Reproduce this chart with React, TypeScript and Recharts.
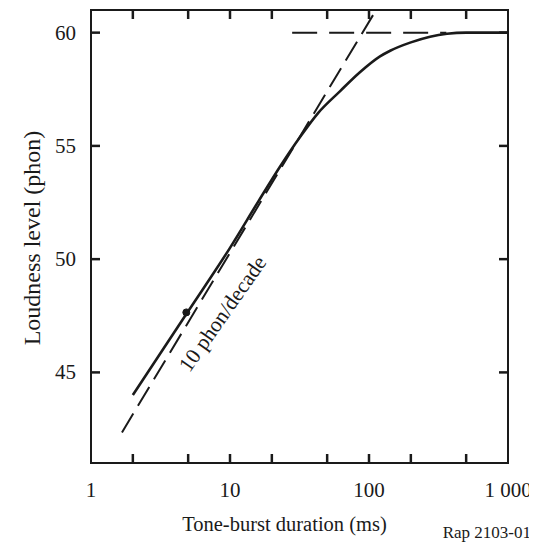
import React from 'react';
import { ComposedChart, Line, XAxis, YAxis, ReferenceDot, ReferenceLine, ReferenceArea } from 'recharts';

// tone-burst duration (ms) vs loudness level (phon)
const solidDurations = [2, 5, 10, 16, 23, 32, 43, 62, 86, 120, 142, 200, 275, 364, 500, 1000];
const solidLevels = [44.0, 47.7, 50.5, 52.55, 54.1, 55.4, 56.45, 57.42, 58.25, 58.95, 59.2, 59.57, 59.82, 59.95, 60, 60];

// 10 phon/decade asymptote
const slopeDurations = [1.67, 110];
const slopeLevels = [42.35, 60.9];

// long-duration asymptote
const plateauDurations = [28, 360];
const plateauLevels = [60, 60];

const markerDurations = [4.85];
const markerLevels = [47.65];

const xDomain = [1, 1000];
const yDomain = [41, 61];
const xTicks = [1, 2, 5, 10, 20, 50, 100, 200, 500, 1000];
const xLabelValues = [1, 10, 100, 1000];
const xLabelTexts = ['1', '10', '100', '1 000'];
const yTicks = [45, 50, 55, 60];

const solidData = solidDurations.map((t, i) => ({ t, phon: solidLevels[i] }));
const slopeData = slopeDurations.map((t, i) => ({ t, phon: slopeLevels[i] }));
const plateauData = plateauDurations.map((t, i) => ({ t, phon: plateauLevels[i] }));
const markerData = markerDurations.map((t, i) => ({ t, phon: markerLevels[i] }));

const INK = '#1a1a1a';
const FONT = '"Liberation Serif", "Times New Roman", serif';
const TICK_LEN = 9;
const axisLineStyle = { stroke: INK, strokeWidth: 2 };

const BottomTick = ({ x, y, payload }: any) => {
  const idx = xLabelValues.indexOf(payload.value);
  if (idx < 0) return <g />;
  return (
    <text x={x} y={y + 34} textAnchor="middle" fontSize={21} fontFamily={FONT} fill={INK}>
      {xLabelTexts[idx]}
    </text>
  );
};

const LeftTick = ({ x, y, payload }: any) => (
  <text x={x - 15} y={y + 7} textAnchor="end" fontSize={21} fontFamily={FONT} fill={INK}>
    {payload.value}
  </text>
);

// inward tick marks at both ends of a full-height / full-width reference line
const VerticalTicks = ({ x1, y1, y2 }: any) => {
  const top = Math.min(y1, y2);
  const bottom = Math.max(y1, y2);
  return (
    <g>
      <line x1={x1} x2={x1} y1={top} y2={top + TICK_LEN} stroke={INK} strokeWidth={2.5} />
      <line x1={x1} x2={x1} y1={bottom} y2={bottom - TICK_LEN} stroke={INK} strokeWidth={2.5} />
    </g>
  );
};

const HorizontalTicks = ({ x1, x2, y1 }: any) => {
  const left = Math.min(x1, x2);
  const right = Math.max(x1, x2);
  return (
    <g>
      <line x1={left} x2={left + TICK_LEN} y1={y1} y2={y1} stroke={INK} strokeWidth={2.5} />
      <line x1={right} x2={right - TICK_LEN} y1={y1} y2={y1} stroke={INK} strokeWidth={2.5} />
    </g>
  );
};

const SlopeNote = ({ viewBox }: any) => {
  const cx = viewBox.x + (viewBox.width || 0) / 2;
  const cy = viewBox.y + (viewBox.height || 0) / 2;
  return (
    <text
      x={cx}
      y={cy}
      dy="0.35em"
      textAnchor="middle"
      fontSize={21.5}
      fontFamily={FONT}
      fill={INK}
      transform={`rotate(-55, ${cx}, ${cy})`}
    >
      10 phon/decade
    </text>
  );
};

const W = 529;
const H = 544;

export default function App() {
  return (
    <div style={{ position: 'relative', width: W, height: H, background: '#fff' }}>
      <ComposedChart
        width={W}
        height={H}
        margin={{ top: 2, left: 43, right: 29, bottom: 49 }}
      >
        <XAxis
          xAxisId="bottom"
          dataKey="t"
          type="number"
          scale="log"
          domain={xDomain}
          allowDataOverflow
          ticks={xTicks}
          interval={0}
          height={40}
          tickSize={0}
          tickMargin={0}
          tickLine={false}
          axisLine={axisLineStyle}
          tick={BottomTick}
        />
        <YAxis
          yAxisId="left"
          type="number"
          domain={yDomain}
          allowDataOverflow
          ticks={yTicks}
          interval={0}
          width={40}
          tickSize={0}
          tickMargin={0}
          tickLine={false}
          axisLine={axisLineStyle}
          tick={LeftTick}
        />
        {/* closed frame round the plot */}
        <ReferenceArea
          xAxisId="bottom"
          yAxisId="left"
          x1={xDomain[0]}
          x2={xDomain[1]}
          y1={yDomain[0]}
          y2={yDomain[1]}
          ifOverflow="visible"
          fill="none"
          fillOpacity={0}
          stroke={INK}
          strokeWidth={2}
        />
        {xTicks
          .filter((v) => v > 1 && v < 1000)
          .map((v) => (
            <ReferenceLine
              key={`xt-${v}`}
              xAxisId="bottom"
              yAxisId="left"
              x={v}
              stroke={INK}
              shape={VerticalTicks}
            />
          ))}
        {yTicks.map((v) => (
          <ReferenceLine
            key={`yt-${v}`}
            xAxisId="bottom"
            yAxisId="left"
            y={v}
            stroke={INK}
            shape={HorizontalTicks}
          />
        ))}
        <Line
          xAxisId="bottom"
          yAxisId="left"
          data={plateauData}
          dataKey="phon"
          type="linear"
          stroke={INK}
          strokeWidth={2}
          strokeDasharray="25 12"
          dot={false}
          isAnimationActive={false}
        />
        <Line
          xAxisId="bottom"
          yAxisId="left"
          data={slopeData}
          dataKey="phon"
          type="linear"
          stroke={INK}
          strokeWidth={2}
          strokeDasharray="22 9"
          dot={false}
          isAnimationActive={false}
        />
        <Line
          xAxisId="bottom"
          yAxisId="left"
          data={solidData}
          dataKey="phon"
          type="monotone"
          stroke={INK}
          strokeWidth={2.6}
          dot={false}
          isAnimationActive={false}
        />
        <Line
          xAxisId="bottom"
          yAxisId="left"
          data={markerData}
          dataKey="phon"
          stroke="none"
          dot={{ r: 3.5, fill: INK, stroke: INK, strokeWidth: 1 }}
          isAnimationActive={false}
        />
        <ReferenceDot
          xAxisId="bottom"
          yAxisId="left"
          x={8.8}
          y={47.6}
          r={0}
          fill="none"
          stroke="none"
          label={<SlopeNote />}
        />
      </ComposedChart>
      <svg
        width={W}
        height={H}
        style={{ position: 'absolute', left: 0, top: 0, pointerEvents: 'none' }}
      >
        <text x={276.5} y={523} textAnchor="middle" fontSize={20.5} fontFamily={FONT} fill={INK}>
          Tone-burst duration (ms)
        </text>
        <text
          x={32}
          y={230}
          textAnchor="middle"
          fontSize={24}
          fontFamily={FONT}
          fill={INK}
          transform="rotate(-90, 32, 230)"
        >
          Loudness level (phon)
        </text>
        <text x={523} y={530} textAnchor="end" fontSize={17} fontFamily={FONT} fill={INK}>
          Rap 2103-01
        </text>
      </svg>
    </div>
  );
}
